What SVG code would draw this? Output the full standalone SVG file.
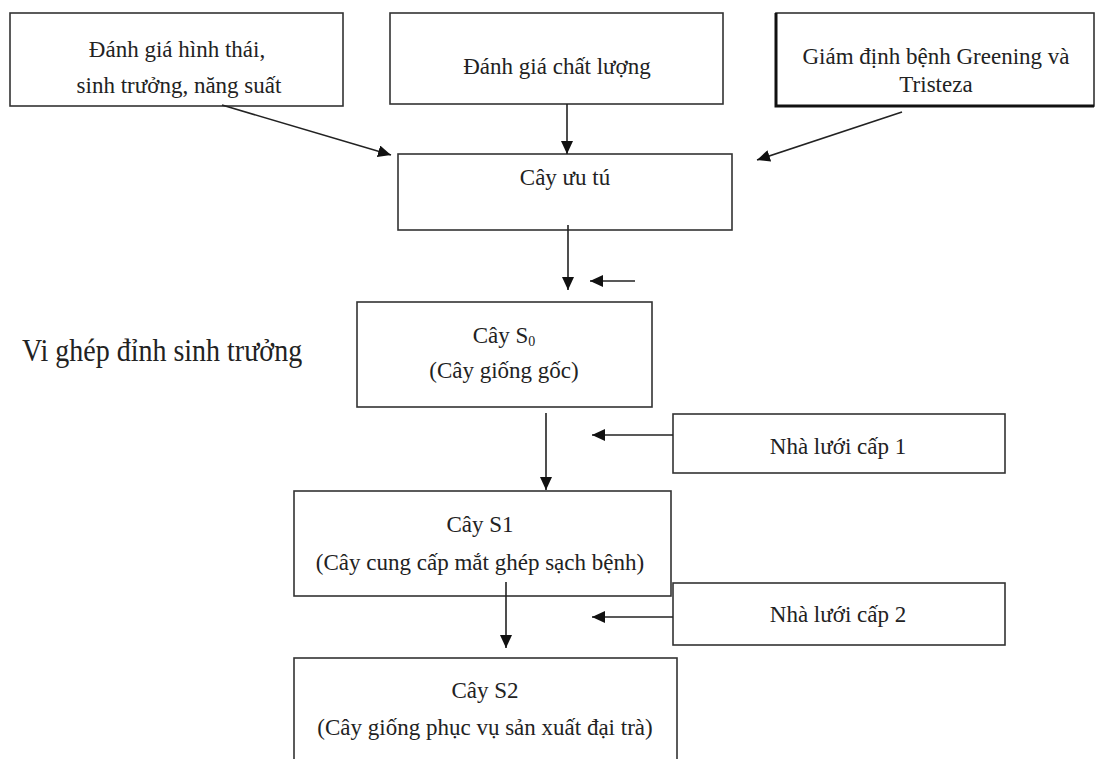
<svg xmlns="http://www.w3.org/2000/svg" width="1095" height="759" viewBox="0 0 1095 759">
<defs>
<marker id="ah" markerUnits="userSpaceOnUse" markerWidth="14" markerHeight="12" refX="13" refY="6" orient="auto">
<path d="M0,0 L13,6 L0,12 Z" fill="#111"/>
</marker>
<style>
.box{fill:#fff;stroke:#333;stroke-width:1.6}
.t{font-family:"Liberation Serif","Times New Roman",serif;font-size:23px;fill:#222;text-anchor:middle}
.c{stroke:#222;stroke-width:1.6;fill:none;marker-end:url(#ah)}
</style>
</defs>
<rect width="1095" height="759" fill="#fff"/>
<g id="n1">
<rect class="box" x="10" y="13" width="333" height="93"/>
<text class="t" x="177" y="57">Đánh giá hình thái,</text>
<text class="t" x="179" y="93">sinh trưởng, năng suất</text>
</g>
<g id="n2">
<rect class="box" x="390" y="13" width="333" height="91"/>
<text class="t" x="557" y="74">Đánh giá chất lượng</text>
</g>
<g id="n3">
<rect class="box" x="776" y="13" width="318" height="93"/>
<path d="M776,13 V106 H1094" fill="none" stroke="#111" stroke-width="3"/>
<text class="t" x="936" y="64">Giám định bệnh Greening và</text>
<text class="t" x="936" y="92">Tristeza</text>
</g>
<g id="n4">
<rect class="box" x="398" y="154" width="334" height="76"/>
<text class="t" x="565" y="185">Cây ưu tú</text>
</g>
<g id="n5">
<rect class="box" x="357" y="302" width="295" height="105"/>
<text class="t" x="504" y="343">Cây S<tspan font-size="14" dy="3">0</tspan></text>
<text class="t" x="504" y="378">(Cây giống gốc)</text>
</g>
<g id="n6">
<text font-family="Liberation Serif, Times New Roman, serif" font-size="28" fill="#222" transform="translate(22,361) scale(1,1.15)" x="0" y="0">Vi ghép đỉnh sinh trưởng</text>
</g>
<g id="n7">
<rect class="box" x="673" y="414" width="332" height="59"/>
<text class="t" x="838" y="454">Nhà lưới cấp 1</text>
</g>
<g id="n8">
<rect class="box" x="294" y="491" width="377" height="105"/>
<text class="t" x="480" y="532">Cây S1</text>
<text class="t" x="480" y="570">(Cây cung cấp mắt ghép sạch bệnh)</text>
</g>
<g id="n9">
<rect class="box" x="673" y="583" width="332" height="62"/>
<text class="t" x="838" y="622">Nhà lưới cấp 2</text>
</g>
<g id="n10">
<rect class="box" x="294" y="658" width="383" height="110"/>
<text class="t" x="485" y="698">Cây S2</text>
<text class="t" x="485" y="735">(Cây giống phục vụ sản xuất đại trà)</text>
</g>
<g id="connectors">
<line class="c" x1="222" y1="105" x2="391" y2="155"/>
<line class="c" x1="567" y1="104" x2="567" y2="154"/>
<line class="c" x1="902" y1="112" x2="757" y2="160"/>
<line class="c" x1="568" y1="225" x2="568" y2="290"/>
<line class="c" x1="635" y1="281" x2="590" y2="281"/>
<line class="c" x1="546" y1="413" x2="546" y2="490"/>
<line class="c" x1="673" y1="435" x2="592" y2="435"/>
<line class="c" x1="506" y1="582" x2="506" y2="648"/>
<line class="c" x1="673" y1="617" x2="592" y2="617"/>
</g>
</svg>
